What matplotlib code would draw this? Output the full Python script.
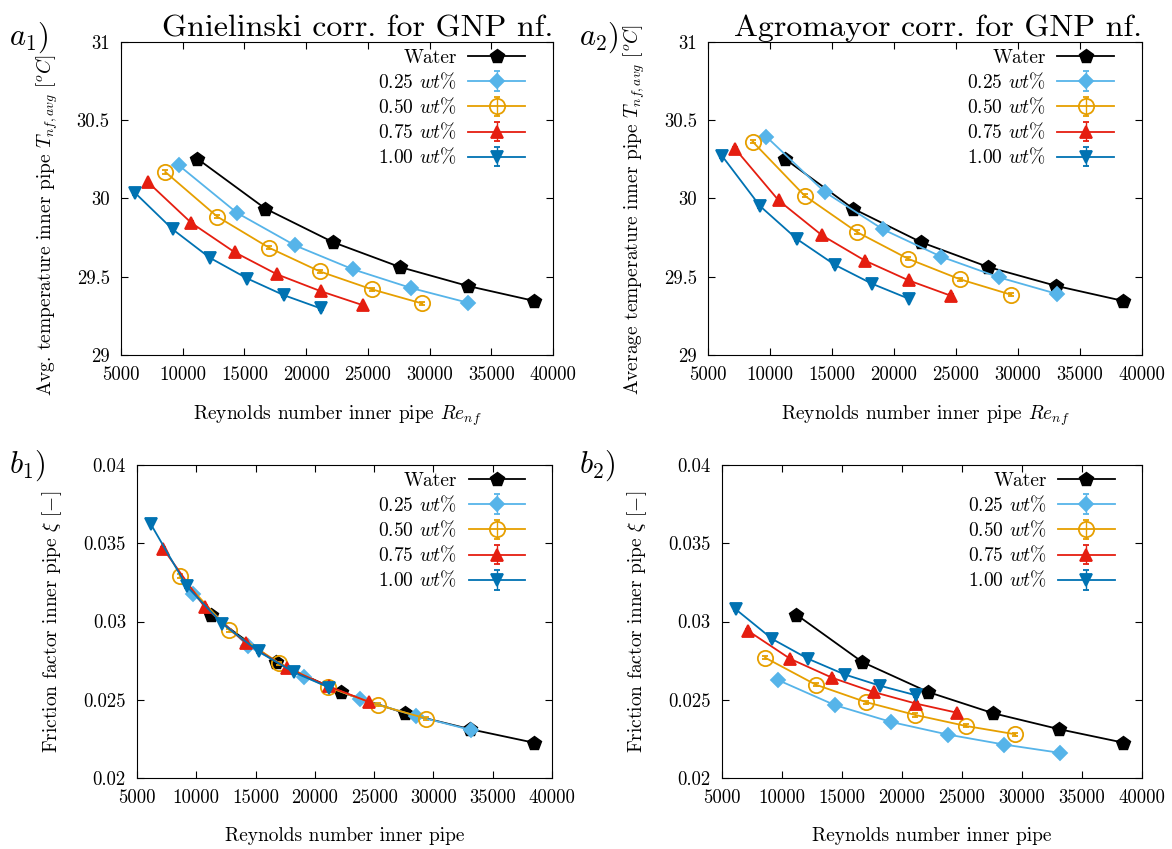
import matplotlib
matplotlib.use('Agg')
import matplotlib.pyplot as plt
from matplotlib.ticker import FormatStrFormatter

plt.rcParams['font.family'] = 'serif'
plt.rcParams['font.serif'] = ['cmr10']
plt.rcParams['mathtext.fontset'] = 'cm'
plt.rcParams['axes.formatter.use_mathtext'] = True

# Reynolds numbers (same in all panels)
re_water = [11200, 16700, 22200, 27600, 33100, 38450]
re_025 = [9700, 14400, 19100, 23800, 28500, 33150]
re_050 = [8600, 12800, 17000, 21100, 25300, 29400]
re_075 = [7200, 10700, 14200, 17650, 21200, 24600]
re_100 = [6150, 9200, 12200, 15250, 18200, 21200]

# a1) Gnielinski, average temperature
a1_water = [30.253, 29.935, 29.72, 29.562, 29.441, 29.346]
a1_025 = [30.211, 29.908, 29.70, 29.547, 29.428, 29.333]
a1_050 = [30.169, 29.884, 29.685, 29.534, 29.42, 29.329]
a1_075 = [30.103, 29.844, 29.657, 29.515, 29.407, 29.318]
a1_100 = [30.035, 29.802, 29.621, 29.488, 29.382, 29.297]

# a2) Agromayor, average temperature
a2_water = a1_water
a2_025 = [30.395, 30.042, 29.803, 29.628, 29.495, 29.39]
a2_050 = [30.363, 30.017, 29.786, 29.616, 29.484, 29.386]
a2_075 = [30.316, 29.987, 29.764, 29.603, 29.476, 29.378]
a2_100 = [30.27, 29.951, 29.739, 29.575, 29.456, 29.359]

# b1) Gnielinski, friction factor
b1_water = [0.03044, 0.02741, 0.02549, 0.02414, 0.02312, 0.02226]
b1_025 = [0.03178, 0.02841, 0.02647, 0.02504, 0.02397, 0.02307]
b1_050 = [0.03291, 0.02944, 0.02734, 0.02581, 0.02468, 0.0238]
b1_075 = [0.03466, 0.03093, 0.02862, 0.02702, 0.02585, 0.02485]
b1_100 = [0.03624, 0.03225, 0.02986, 0.02809, 0.02677, 0.02578]

# b2) Agromayor, friction factor
b2_water = b1_water
b2_025 = [0.02625, 0.02466, 0.02358, 0.02278, 0.02214, 0.02161]
b2_050 = [0.02769, 0.02597, 0.02485, 0.02403, 0.02333, 0.0228]
b2_075 = [0.02939, 0.02761, 0.0264, 0.02549, 0.02475, 0.02417]
b2_100 = [0.03078, 0.02888, 0.02761, 0.02661, 0.02589, 0.02528]

# measurement uncertainty (error bars of nanofluids)
err_T = 0.01
err_f = 0.0001

labels = ['Water', r'0.25 $wt\%$', r'0.50 $wt\%$', r'0.75 $wt\%$', r'1.00 $wt\%$']
colors = ['black', '#56b4e9', '#e69f00', '#e51e10', '#0072b2']
markers = ['p', 'D', 'o', '^', 'v']
msizes = [10, 7, 11, 8.5, 8.5]
re_all = [re_water, re_025, re_050, re_075, re_100]

fig = plt.figure(figsize=(11.72, 8.49), dpi=100)
ax_a1 = fig.add_axes([0.1032, 0.5819, 0.3686, 0.3687])
ax_a2 = fig.add_axes([0.6041, 0.5819, 0.3703, 0.3687])
ax_b1 = fig.add_axes([0.1169, 0.0836, 0.3541, 0.3687])
ax_b2 = fig.add_axes([0.6160, 0.0836, 0.3584, 0.3687])

panels = [
    (ax_a1, [a1_water, a1_025, a1_050, a1_075, a1_100], err_T),
    (ax_a2, [a2_water, a2_025, a2_050, a2_075, a2_100], err_T),
    (ax_b1, [b1_water, b1_025, b1_050, b1_075, b1_100], err_f),
    (ax_b2, [b2_water, b2_025, b2_050, b2_075, b2_100], err_f),
]

for ax, ys, err in panels:
    for i in range(5):
        face = 'none' if markers[i] == 'o' else colors[i]
        if i == 0:
            ax.plot(re_all[i], ys[i], color=colors[i], marker=markers[i], ms=msizes[i],
                    mfc=face, lw=1.3, label=labels[i])
        else:
            ax.errorbar(re_all[i], ys[i], yerr=err, color=colors[i], marker=markers[i],
                        ms=msizes[i], mfc=face, mew=1.3, lw=1.3, capsize=2,
                        elinewidth=1, label=labels[i])
    ax.set_xlim(5000, 40000)
    ax.set_xticks(range(5000, 40001, 5000))
    ax.tick_params(direction='in', top=True, right=True, labelsize=13.5, length=5, pad=8)
    ax.xaxis.set_major_formatter(FormatStrFormatter('%g'))
    ax.yaxis.set_major_formatter(FormatStrFormatter('%g'))
    # markerfirst=False -> texts right aligned next to the line samples
    ax.legend(loc='upper right', bbox_to_anchor=(0.935, 0.978), frameon=False,
              markerfirst=False, fontsize=14, handlelength=2.9, labelspacing=0.24,
              handletextpad=0.6, borderpad=0, borderaxespad=0)

for ax in [ax_a1, ax_a2]:
    ax.set_ylim(29, 31)
    ax.set_yticks([29, 29.5, 30, 30.5, 31])
    ax.set_xlabel(r'Reynolds number inner pipe $Re_{nf}$', fontsize=14, labelpad=14)

for ax in [ax_b1, ax_b2]:
    ax.set_ylim(0.02, 0.04)
    ax.set_yticks([0.02, 0.025, 0.03, 0.035, 0.04])
    ax.set_xlabel('Reynolds number inner pipe', fontsize=14, labelpad=14)
    ax.set_ylabel(r'Friction factor inner pipe $\xi$ $[-]$', fontsize=14, labelpad=14)

ax_a1.set_ylabel(r'Avg. temperature inner pipe $T_{nf,avg}$ $[^oC]$', fontsize=14,
                 labelpad=12, y=0.414)
ax_a2.set_ylabel(r'Average temperature inner pipe $T_{nf,avg}$ $[^oC]$', fontsize=14,
                 labelpad=12, y=0.466)

ax_a1.set_title('Gnielinski corr. for GNP nf.', loc='right', fontsize=23, pad=4)
ax_a2.set_title('Agromayor corr. for GNP nf.', loc='right', fontsize=23, pad=4)

fig.text(0.008, 0.947, r'$a_1)$', fontsize=22)
fig.text(0.494, 0.947, r'$a_2)$', fontsize=22)
fig.text(0.008, 0.443, r'$b_1)$', fontsize=22)
fig.text(0.494, 0.443, r'$b_2)$', fontsize=22)

fig.savefig('out.png', dpi=100)
